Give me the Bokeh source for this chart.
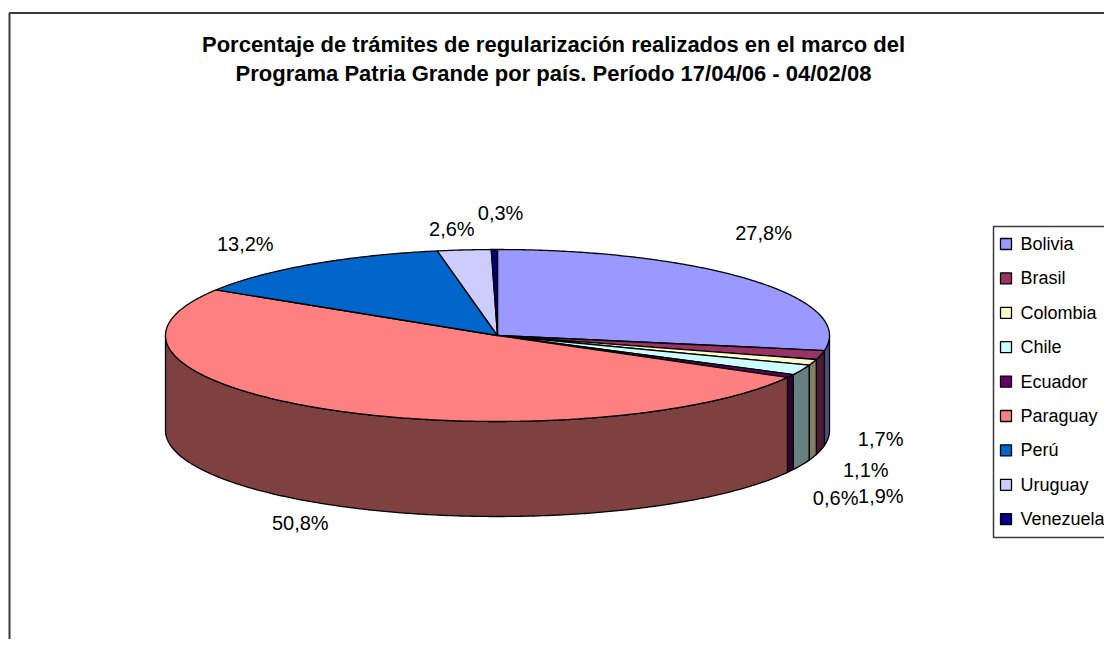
import math
from bokeh.plotting import figure
from bokeh.models import Range1d
from bokeh.core.properties import value
from bokeh.embed import file_html
from bokeh.resources import INLINE

# ---------------- data ----------------
countries = ["Bolivia", "Brasil", "Colombia", "Chile", "Ecuador",
             "Paraguay", "Perú", "Uruguay", "Venezuela"]
percents = [27.8, 1.7, 1.1, 1.9, 0.6, 50.8, 13.2, 2.6, 0.3]
top_colors = ["#9999FF", "#993366", "#FFFFCC", "#CCFFFF", "#660066",
              "#FF8080", "#0066CC", "#CCCCFF", "#000080"]
title_lines = ["Porcentaje de trámites de regularización realizados en el marco del",
               "Programa Patria Grande por país. Período 17/04/06 - 04/02/08"]
# label nudges (layout only)
label_nudge = [(-52, -33), (-21, -16), (-26, 6), (3, 22), (-28, 17),
               (14, 0), (-19, -3), (-4, 0), (7, -15)]

# ---------------- layout ----------------
W, H = 1104, 639
CX, CY = 497, 335      # centre of top ellipse
A, B = 332, 86         # semi axes
DEPTH = 95
FONT = "Liberation Sans"


def darken(hx, f=0.5):
    r, g, b = int(hx[1:3], 16), int(hx[3:5], 16), int(hx[5:7], 16)
    return "#%02x%02x%02x" % (int(r * f), int(g * f), int(b * f))


def pt(theta_deg, dy=0.0, k=1.0):
    t = math.radians(theta_deg)
    return CX + A * k * math.sin(t), CY - B * k * math.cos(t) + dy


p = figure(width=W, height=H, output_backend="svg", toolbar_location=None,
           x_range=Range1d(0, W), y_range=Range1d(H, 0),
           min_border=0)
p.axis.visible = False
p.grid.visible = False
p.outline_line_color = None
p.background_fill_color = "white"

# chart frame (extends beyond the window on right/bottom)
p.quad(left=[9], right=[1300], top=[12.5], bottom=[900],
       fill_color=None, line_color="#3a3a3a", line_width=2)

# angles
total = sum(percents)
starts, ends = [], []
acc = 0.0
for v in percents:
    starts.append(acc / total * 360.0)
    acc += v
    ends.append(acc / total * 360.0)

# side faces (visible front half: 90..270 deg clockwise from top)
side_xs, side_ys, side_cols = [], [], []
for s, e, c in zip(starts, ends, top_colors):
    lo, hi = max(s, 90.0), min(e, 270.0)
    if hi <= lo:
        continue
    n = max(2, int((hi - lo) * 2))
    topx, topy, botx, boty = [], [], [], []
    for i in range(n + 1):
        th = lo + (hi - lo) * i / n
        x, y = pt(th)
        topx.append(x); topy.append(y)
        botx.append(x); boty.append(y + DEPTH)
    side_xs.append(topx + botx[::-1])
    side_ys.append(topy + boty[::-1])
    side_cols.append(darken(c))
p.patches(side_xs, side_ys, fill_color=side_cols, line_color="black",
          line_width=1.3, line_join="round")

# top faces
top_xs, top_ys = [], []
for s, e in zip(starts, ends):
    n = max(2, int((e - s) * 2))
    xs, ys = [CX], [CY]
    for i in range(n + 1):
        x, y = pt(s + (e - s) * i / n)
        xs.append(x); ys.append(y)
    top_xs.append(xs); top_ys.append(ys)
p.patches(top_xs, top_ys, fill_color=top_colors, line_color="black",
          line_width=1.3, line_join="round")

# data labels
lx, ly, lt = [], [], []
for s, e, v, (dx, dy) in zip(starts, ends, percents, label_nudge):
    m = (s + e) / 2.0
    extra = DEPTH if math.cos(math.radians(m)) < 0 else 0
    x, y = pt(m, extra, 1.25)
    lx.append(x + dx); ly.append(y + dy)
    lt.append(("%.1f" % v).replace(".", ",") + "%")
p.text(lx, ly, text=lt, text_font=value(FONT), text_font_size="20px",
       text_align="center", text_baseline="middle", text_color="black")

# title
p.text([553, 553], [44, 73], text=title_lines, text_font=value(FONT),
       text_font_size="22px", text_font_style="bold", text_align="center",
       text_baseline="middle", text_color="black")

# legend
p.quad(left=[993], right=[1300], top=[226], bottom=[537],
       fill_color="white", line_color="#3a3a3a", line_width=1.5)
leg_y = [243.5 + 34.4 * i for i in range(len(countries))]
p.rect([1005.5] * len(countries), leg_y, width=11, height=11,
       fill_color=top_colors, line_color="black", line_width=1.3)
p.text([1020] * len(countries), leg_y, text=countries, text_font=value(FONT),
       text_font_size="18px", text_align="left", text_baseline="middle",
       text_color="black")

open("out.html", "w").write(file_html(p, INLINE))
